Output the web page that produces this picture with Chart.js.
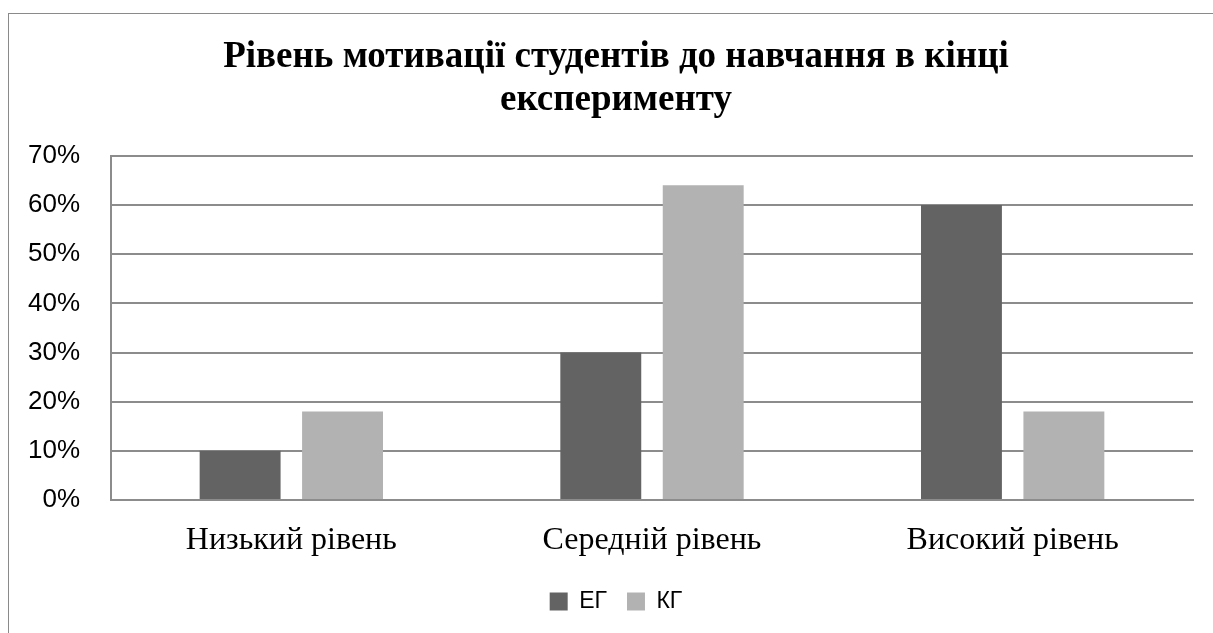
<!DOCTYPE html>
<html>
<head>
<meta charset="utf-8">
<script src="https://cdn.jsdelivr.net/npm/chart.js@4"></script>
<style>
    html, body { margin: 0; padding: 0; background: #fff; overflow: hidden; }
    #chart-box {
        position: absolute;
        left: 8px;
        top: 13px;
        width: 1220px;
        height: 640px;
        border: 1px solid #8a8a8a;
    }
    #chart-wrap { position: absolute; left: 0; top: 0; width: 1204px; height: 619px; }
</style>
</head>
<body>
<div id="chart-box">
    <div id="chart-wrap"><canvas id="chart"></canvas></div>
</div>
<script>
const titleLines = ["Рівень мотивації студентів до навчання в кінці", "експерименту"];
const categories = ["Низький рівень", "Середній рівень", "Високий рівень"];
const seriesNames = ["ЕГ", "КГ"];
const valuesEG = [10, 30, 60];
const valuesKG = [18, 64, 18];
const seriesColors = ["#636363", "#b2b2b2"];
const yTicks = [0, 10, 20, 30, 40, 50, 60, 70];

const gridColor = "#8c8c8c";

new Chart(document.getElementById("chart"), {
    type: "bar",
    data: {
        labels: categories,
        datasets: [
            { label: seriesNames[0], data: valuesEG, backgroundColor: seriesColors[0] },
            { label: seriesNames[1], data: valuesKG, backgroundColor: seriesColors[1] }
        ]
    },
    options: {
        responsive: true,
        maintainAspectRatio: false,
        animation: false,
        categoryPercentage: 0.568,
        barPercentage: 0.79,
        layout: { padding: { left: 30, right: 20, top: 0, bottom: 10 } },
        plugins: {
            title: {
                display: true,
                text: titleLines,
                color: "#000",
                font: { family: "'Liberation Serif', serif", size: 37, weight: "bold", lineHeight: 1.16 },
                padding: { top: 22, bottom: 34 }
            },
            legend: {
                position: "bottom",
                labels: {
                    color: "#000",
                    font: { family: "'Liberation Sans', sans-serif", size: 23 },
                    boxWidth: 18,
                    boxHeight: 18,
                    padding: 20
                }
            },
            tooltip: { enabled: false }
        },
        scales: {
            x: {
                afterFit: scale => { scale.height = 70; },
                grid: { display: false, drawTicks: false },
                border: { color: gridColor, width: 2 },
                ticks: {
                    color: "#000",
                    padding: 21,
                    font: { family: "'Liberation Serif', serif", size: 32 }
                }
            },
            y: {
                min: 0,
                max: 70,
                afterFit: scale => {
                    scale.width = 72;
                    // let the % labels spill into the left padding instead of being clipped
                    scale._computeLabelArea = () => undefined;
                },
                afterBuildTicks: scale => { scale.ticks = yTicks.map(v => ({ value: v })); },
                grid: { color: gridColor, lineWidth: 2, drawTicks: false },
                border: { color: gridColor, width: 2 },
                ticks: {
                    color: "#000",
                    padding: 31,
                    font: { family: "'Liberation Sans', sans-serif", size: 26 },
                    callback: v => v + "%"
                }
            }
        }
    }
});
</script>
</body>
</html>
